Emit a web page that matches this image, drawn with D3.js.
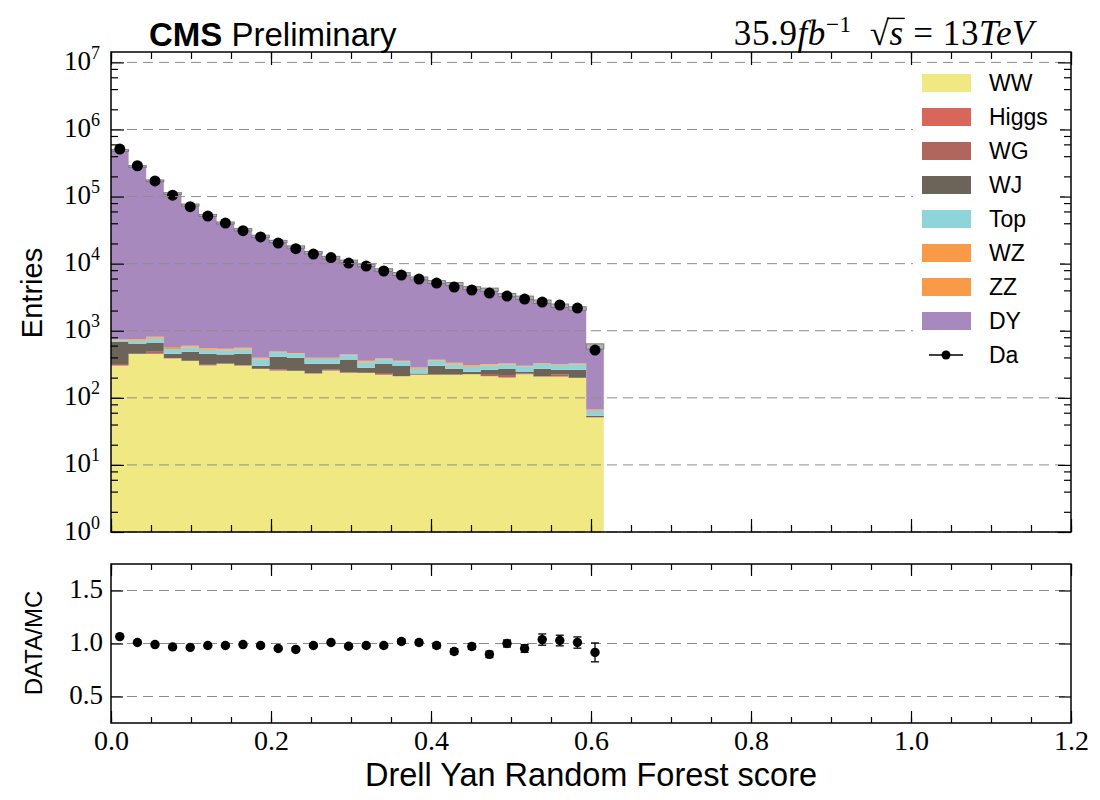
<!DOCTYPE html>
<html lang="en">
<head>
  <meta charset="UTF-8">
  <title>Drell Yan Random Forest score</title>
  <script src="https://d3js.org/d3.v7.min.js"></script>
  <style>
    body { margin: 0; background: #ffffff; }
    svg { display: block; }
    .sans { font-family: "Liberation Sans", Arial, sans-serif; }
    .serif { font-family: "Liberation Serif", "Times New Roman", serif; }
    .tick line { stroke: #000; stroke-width: 1.2; }
    .grid line { stroke: #8c8c8c; stroke-width: 1; stroke-dasharray: 10,6; }
  </style>
</head>
<body>
<svg width="1100" height="800"></svg>

<script>
  // bin edges of the score histogram (0 .. 0.616, width 0.022)
  const edges = [0.000, 0.022, 0.044, 0.066, 0.088, 0.110, 0.132, 0.154, 0.176, 0.198,
                 0.220, 0.242, 0.264, 0.286, 0.308, 0.330, 0.352, 0.374, 0.396, 0.418,
                 0.440, 0.462, 0.484, 0.506, 0.528, 0.550, 0.572, 0.594, 0.616];

  // stacked MC, bottom to top
  const WW    = [301, 450, 450, 387, 354, 304, 319, 301, 269, 254, 251, 229, 254, 234,
                 234, 219, 209, 219, 219, 219, 224, 209, 200, 224, 207, 207, 197, 51];
  const Higgs = [2, 2, 3, 2, 2, 2, 2, 2, 1, 2, 1, 1, 2, 2, 1, 3, 1, 1, 1, 1, 1, 3, 3, 1, 1, 3, 1, 0.3];
  const WG    = [17, 3, 34, 3, 2, 6, 5, 2, 2, 9, 2, 2, 6, 4, 2, 12, 2, 2, 2, 2, 2, 15, 16, 5, 2, 14, 2, 0.7];
  const WJ    = [359, 179, 169, 63, 129, 143, 118, 150, 29, 145, 142, 90, 60, 126,
                 44, 85, 86, 8, 79, 50, 18, 35, 50, 13, 62, 38, 62, 2];
  const Top   = [39, 76, 104, 79, 78, 66, 65, 72, 73, 66, 59, 57, 57, 64,
                 56, 55, 51, 39, 56, 43, 46, 42, 46, 48, 47, 46, 52, 10];
  const WZ    = [14, 23, 30, 21, 18, 18, 17, 17, 12, 8, 6, 9, 9, 7, 11, 7, 4, 8, 7, 10, 9, 9, 6, 5, 6, 7, 7, 2];
  const ZZ    = [11, 19, 25, 17, 15, 14, 14, 14, 10, 6, 4, 8, 8, 6, 9, 6, 4, 7, 6, 9, 8, 7, 5, 4, 5, 5, 5, 1];
  const DY    = [486000, 280000, 171000, 110400, 74200, 51850, 39860, 31440, 25100, 20910,
                 17240, 14200, 11900, 10360, 9040, 7650, 6640, 5750, 4950, 4640,
                 4020, 3770, 3080, 2810, 2380, 2040, 1820, 518];
  const mcErr = [0.03, 0.03, 0.03, 0.03, 0.035, 0.035, 0.035, 0.04, 0.04, 0.04, 0.04, 0.04, 0.045, 0.045,
                 0.045, 0.045, 0.05, 0.05, 0.05, 0.05, 0.05, 0.055, 0.055, 0.055, 0.06, 0.06, 0.06, 0.09];

  // observed data
  const dataCounts = [510000, 288000, 171000, 105000, 70600, 51300, 40300, 31000, 25000, 20300,
                      16700, 13900, 12300, 10200, 9200, 7770, 6770, 5900, 5140, 4480,
                      4050, 3650, 3290, 2970, 2680, 2420, 2180, 516];
  const ratio    = [1.065, 1.009, 0.990, 0.968, 0.963, 0.981, 0.981, 0.990, 0.981, 0.953,
                    0.944, 0.981, 1.009, 0.974, 0.981, 0.981, 1.019, 1.009, 0.981, 0.925,
                    0.972, 0.897, 1.000, 0.953, 1.037, 1.028, 1.009, 0.916];
  const ratioErr = [0.004, 0.005, 0.006, 0.007, 0.008, 0.009, 0.010, 0.011, 0.012, 0.013,
                    0.014, 0.015, 0.016, 0.017, 0.018, 0.019, 0.020, 0.022, 0.024, 0.026,
                    0.028, 0.030, 0.033, 0.036, 0.053, 0.050, 0.053, 0.089];

  const keys   = ["WW", "Higgs", "WG", "WJ", "Top", "WZ", "ZZ", "DY"];
  const series = [WW, Higgs, WG, WJ, Top, WZ, ZZ, DY];
  const colors = ["#f0e882", "#d9665a", "#b0655d", "#6c6359", "#8fd4d9", "#f99a48", "#f99a48", "#a789bd"];

  const xTicks      = [0.0, 0.2, 0.4, 0.6, 0.8, 1.0, 1.2];
  const decades     = [1, 1e1, 1e2, 1e3, 1e4, 1e5, 1e6, 1e7];
  const ratioTicks  = [0.5, 1.0, 1.5];

  const svg = d3.select("svg");

  const left = 111, right = 1071;
  const topY0 = 52, topY1 = 532;
  const ratY0 = 564, ratY1 = 723;

  const x = d3.scaleLinear().domain([0, 1.2]).range([left, right]);
  const y = d3.scaleLog().domain([1, Math.pow(10, 7.155)]).range([topY1, topY0]);
  const yr = d3.scaleLinear().domain([0.25, 1.75]).range([ratY1, ratY0]);

  const rows = dataCounts.map((d, i) => {
    const r = { lo: edges[i], hi: edges[i + 1], data: d };
    keys.forEach((k, j) => r[k] = series[j][i]);
    return r;
  });

  const stacked = d3.stack().keys(keys)(rows);
  const color = d3.scaleOrdinal().domain(keys).range(colors);

  svg.append("defs").append("clipPath").attr("id", "clipTop")
    .append("rect").attr("x", left).attr("y", topY0).attr("width", right - left).attr("height", topY1 - topY0);

  const plot = svg.append("g").attr("clip-path", "url(#clipTop)");

  const area = d3.area()
    .curve(d3.curveStepAfter)
    .x(p => x(p.x))
    .y0(p => y(Math.max(p.y0, 1)))
    .y1(p => y(Math.max(p.y1, 1)));

  plot.selectAll("path.layer")
    .data(stacked)
    .join("path")
    .attr("class", "layer")
    .attr("fill", s => color(s.key))
    .attr("d", s => {
      const pts = s.map(d => ({ x: d.data.lo, y0: d[0], y1: d[1] }));
      const last = s[s.length - 1];
      pts.push({ x: last.data.hi, y0: last[0], y1: last[1] });
      return area(pts);
    });

  // MC stat uncertainty band on the total
  const totals = rows.map(r => d3.sum(keys, k => r[k]));
  plot.selectAll("rect.unc")
    .data(rows)
    .join("rect")
    .attr("class", "unc")
    .attr("x", d => x(d.lo))
    .attr("width", d => x(d.hi) - x(d.lo))
    .attr("y", (d, i) => y(totals[i] * (1 + mcErr[i])))
    .attr("height", (d, i) => y(totals[i] * (1 - mcErr[i])) - y(totals[i] * (1 + mcErr[i])))
    .attr("fill", "#b4b4b4")
    .attr("stroke", "#7a7a7a")
    .attr("stroke-width", 1);

  // grid lines (on top of the fill, as in the original)
  svg.append("g").attr("class", "grid")
    .selectAll("line").data(decades).join("line")
    .attr("x1", left).attr("x2", right)
    .attr("y1", d => y(d)).attr("y2", d => y(d));

  svg.append("g").attr("class", "grid")
    .selectAll("line").data(ratioTicks).join("line")
    .attr("x1", left).attr("x2", right)
    .attr("y1", d => yr(d)).attr("y2", d => yr(d));

  // data points
  plot.selectAll("circle.data")
    .data(rows)
    .join("circle")
    .attr("class", "data")
    .attr("cx", d => x((d.lo + d.hi) / 2))
    .attr("cy", d => y(d.data))
    .attr("r", 5.5)
    .attr("fill", "#000");

  // ratio points with error bars
  const rg = svg.append("g");
  rows.forEach((d, i) => {
    const cx = x((d.lo + d.hi) / 2);
    const g = rg.append("g");
    g.append("line").attr("x1", cx).attr("x2", cx)
      .attr("y1", yr(ratio[i] - ratioErr[i])).attr("y2", yr(ratio[i] + ratioErr[i]))
      .attr("stroke", "#000").attr("stroke-width", 1.3);
    [ratio[i] - ratioErr[i], ratio[i] + ratioErr[i]].forEach(v => {
      g.append("line").attr("x1", cx - 4).attr("x2", cx + 4)
        .attr("y1", yr(v)).attr("y2", yr(v))
        .attr("stroke", "#000").attr("stroke-width", 1.3);
    });
    g.append("circle").attr("cx", cx).attr("cy", yr(ratio[i])).attr("r", 4.7).attr("fill", "#000");
  });

  // ---- axes ----
  const xMinor = d3.range(0, 1.2001, 0.05);
  const logMinor = [];
  decades.slice(0, -1).forEach(d => [2, 4, 6, 8].forEach(m => logMinor.push(d * m)));
  logMinor.push(2e7);

  function ticksOnly(axis, vals, size) {
    return axis.tickValues(vals).tickSize(-size).tickFormat("");
  }

  function addAxis(gen, tx, ty) {
    const g = svg.append("g").attr("transform", `translate(${tx},${ty})`).call(gen);
    g.select(".domain").remove();
    return g;
  }

  // top panel
  addAxis(ticksOnly(d3.axisTop(x), xMinor, 7), 0, topY0);
  addAxis(ticksOnly(d3.axisTop(x), xTicks, 13), 0, topY0);
  addAxis(ticksOnly(d3.axisBottom(x), xMinor, 7), 0, topY1);
  addAxis(ticksOnly(d3.axisBottom(x), xTicks, 13), 0, topY1);
  addAxis(ticksOnly(d3.axisLeft(y), logMinor.filter(v => v < y.domain()[1]), 7), left, 0);
  addAxis(ticksOnly(d3.axisRight(y), logMinor.filter(v => v < y.domain()[1]), 7), right, 0);
  addAxis(ticksOnly(d3.axisRight(y), decades, 13), right, 0);

  const yAx = addAxis(d3.axisLeft(y).tickValues(decades).tickSize(-13).tickPadding(11).tickFormat(""), left, 0);
  yAx.selectAll(".tick text")
    .attr("class", "serif")
    .attr("font-size", 27)
    .attr("fill", "#000")
    .attr("dy", "0.26em")
    .each(function(d) {
      const t = d3.select(this);
      t.text("10");
      t.append("tspan").attr("dy", -11).attr("font-size", 18).text(Math.round(Math.log10(d)));
    });

  // ratio panel
  addAxis(ticksOnly(d3.axisTop(x), xMinor, 6), 0, ratY0);
  addAxis(ticksOnly(d3.axisTop(x), xTicks, 12), 0, ratY0);
  addAxis(ticksOnly(d3.axisBottom(x), xMinor, 6), 0, ratY1);
  addAxis(ticksOnly(d3.axisRight(yr), ratioTicks, 12), right, 0);

  const xAx = addAxis(d3.axisBottom(x).tickValues(xTicks).tickSize(-12).tickPadding(7).tickFormat(d3.format(".1f")), 0, ratY1);
  xAx.selectAll(".tick text").attr("class", "serif").attr("font-size", 28).attr("fill", "#000");

  const yrAx = addAxis(d3.axisLeft(yr).tickValues(ratioTicks).tickSize(-12).tickPadding(8).tickFormat(d3.format(".1f")), left, 0);
  yrAx.selectAll(".tick text").attr("class", "serif").attr("font-size", 27).attr("fill", "#000").attr("dy", "0.26em");

  // frames
  [[topY0, topY1], [ratY0, ratY1]].forEach(([a, b]) => {
    svg.append("rect")
      .attr("x", left).attr("y", a).attr("width", right - left).attr("height", b - a)
      .attr("fill", "none").attr("stroke", "#000").attr("stroke-width", 1.5);
  });

  // ---- legend ----
  const legendItems = keys.map((k, i) => ({ label: k, color: colors[i] }));
  legendItems.push({ label: "Da", color: null });

  svg.append("rect").attr("x", 913).attr("y", 65).attr("width", 147).attr("height", 307).attr("fill", "#fff");

  const leg = svg.append("g").attr("class", "sans");
  leg.selectAll("g")
    .data(legendItems)
    .join("g")
    .attr("transform", (d, i) => `translate(0, ${83 + i * 34})`)
    .each(function(d) {
      const g = d3.select(this);
      if (d.color) {
        g.append("rect").attr("x", 922).attr("y", -9).attr("width", 49).attr("height", 18).attr("fill", d.color);
      } else {
        g.append("line").attr("x1", 929).attr("x2", 963).attr("y1", 0).attr("y2", 0)
          .attr("stroke", "#000").attr("stroke-width", 1.5);
        g.append("circle").attr("cx", 946).attr("cy", 0).attr("r", 4.5).attr("fill", "#000");
      }
      g.append("text").attr("x", 989).attr("y", 8).attr("font-size", 23).attr("fill", "#000").text(d.label);
    });

  // ---- titles ----
  const head = svg.append("text").attr("class", "sans").attr("x", 149).attr("y", 46).attr("font-size", 33);
  head.append("tspan").attr("font-weight", "bold").text("CMS");
  head.append("tspan").text(" Preliminary");

  const lumiSize = 35, lumiBase = 45;
  const lumi = svg.append("text").attr("class", "serif").attr("x", 1034).attr("y", lumiBase)
    .attr("text-anchor", "end").attr("font-size", lumiSize).attr("letter-spacing", 0.6);
  lumi.append("tspan").text("35.9");
  lumi.append("tspan").attr("font-style", "italic").text("fb");
  lumi.append("tspan").attr("dy", -13).attr("font-size", 23).text("\u22121");
  lumi.append("tspan").attr("dy", 13).text("\u2002\u221A");
  lumi.append("tspan").attr("font-style", "italic").text("s");
  lumi.append("tspan").text(" = 13");
  lumi.append("tspan").attr("font-style", "italic").text("TeV");

  // bar over the s of the square root ("35.9" "fb" "−1" " √" "s": √ is char 9, s is char 10)
  const ln = lumi.node();
  const rootBox = ln.getExtentOfChar(9);
  const sBox = ln.getExtentOfChar(10);
  const barY = lumiBase - 0.76 * lumiSize;
  svg.append("line")
    .attr("x1", rootBox.x + rootBox.width - 2).attr("x2", sBox.x + sBox.width + 1)
    .attr("y1", barY).attr("y2", barY)
    .attr("stroke", "#000").attr("stroke-width", 1.4);

  svg.append("text").attr("class", "sans")
    .attr("transform", "translate(42, 293) rotate(-90)")
    .attr("text-anchor", "middle").attr("font-size", 29).text("Entries");

  svg.append("text").attr("class", "sans")
    .attr("transform", "translate(42, 643) rotate(-90)")
    .attr("text-anchor", "middle").attr("font-size", 24).text("DATA/MC");

  svg.append("text").attr("class", "sans")
    .attr("x", 591).attr("y", 786)
    .attr("text-anchor", "middle").attr("font-size", 32.5).text("Drell Yan Random Forest score");
</script>
</body>
</html>
